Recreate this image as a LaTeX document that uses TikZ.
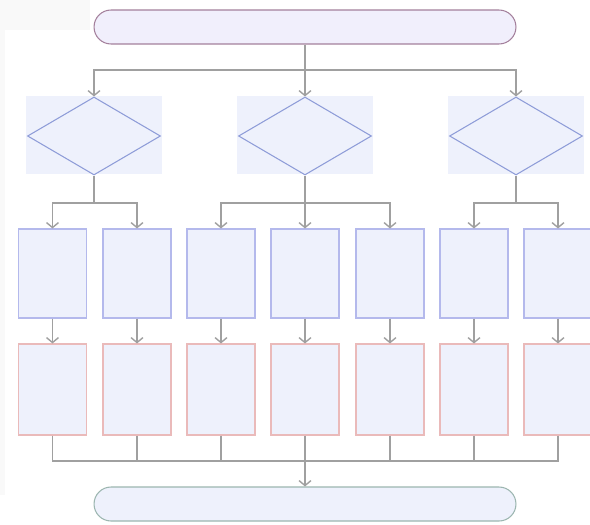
\documentclass[tikz,border=0pt]{standalone}
\usetikzlibrary{arrows.meta,shapes.geometric}

\definecolor{paleblue}{HTML}{EEF1FC}
\definecolor{palelilac}{HTML}{F1EFFC}
\definecolor{mauve}{HTML}{A4809C}
\definecolor{diablue}{HTML}{8E9CD8}
\definecolor{procblue}{HTML}{B4B9EC}
\definecolor{outred}{HTML}{EABABA}
\definecolor{endteal}{HTML}{9CB6B0}
\definecolor{wire}{HTML}{A0A0A0}

\tikzset{
  terminal/.style={rectangle, rounded corners=0.34cm, minimum width=8.44cm,
    minimum height=0.68cm, inner sep=0pt, line width=0.6pt},
  choice/.style={diamond, draw=diablue, minimum width=2.66cm, minimum height=1.56cm,
    inner sep=0pt, line width=0.6pt},
  procbox/.style={rectangle, draw=procblue, fill=paleblue, minimum width=1.36cm,
    minimum height=1.78cm, inner sep=0pt, line width=0.6pt},
  outbox/.style={rectangle, draw=outred, fill=paleblue, minimum width=1.36cm,
    minimum height=1.82cm, inner sep=0pt, line width=0.6pt},
  wireline/.style={draw=wire, line width=0.8pt},
  flow/.style={wireline, -{Straight Barb[length=1mm, width=2.4mm]}}
}

\begin{document}
\begin{tikzpicture}[x=0.02cm, y=-0.02cm]
\useasboundingbox (0,0) rectangle (590,524);
\fill[white] (0,0) rectangle (590,524);
\fill[gray!5] (0,0) rectangle (90,30);
\fill[gray!5] (0,30) rectangle (5,495);

% start and end
\node[terminal, draw=mauve, fill=palelilac] (start) at (305,27) {};
\node[terminal, draw=endteal, fill=paleblue] (finish) at (305,504) {};

% decisions
\foreach \n/\x in {1/94, 2/305, 3/516}
{
\fill[paleblue] (\x-68,96) rectangle (\x+68,174);
\node[choice] (d\n) at (\x,136) {};
}

% two rows of boxes
\foreach \n/\x in {1/52.5, 2/137, 3/221, 4/305, 5/390, 6/474, 7/558}
{
\node[procbox] (p\n) at (\x,273.5) {};
\node[outbox] (o\n) at (\x,389.5) {};
}

% top fan out
\coordinate (busA) at (305,70);
\draw[wireline] (start.south) -- (busA);
\foreach \n in {1,2,3}
\draw[flow] (busA) -| (d\n.north);

% branches under the decisions
\coordinate (b1) at (94,203);
\coordinate (b2) at (305,203);
\coordinate (b3) at (516,203);
\foreach \n in {1,2,3}
\draw[wireline] (d\n.south) -- (b\n);

\foreach \p in {1,2}
\draw[flow] (b1) -| (p\p.north);
\foreach \p in {3,4,5}
\draw[flow] (b2) -| (p\p.north);
\foreach \p in {6,7}
\draw[flow] (b3) -| (p\p.north);

\foreach \n in {1,...,7}
\draw[flow] (p\n.south) -- (o\n.north);

% gather at the bottom
\coordinate (busB) at (305,461);
\foreach \n in {1,...,7}
\draw[wireline] (o\n.south) |- (busB);
\draw[flow] (busB) -- (finish.north);

\end{tikzpicture}
\end{document}
